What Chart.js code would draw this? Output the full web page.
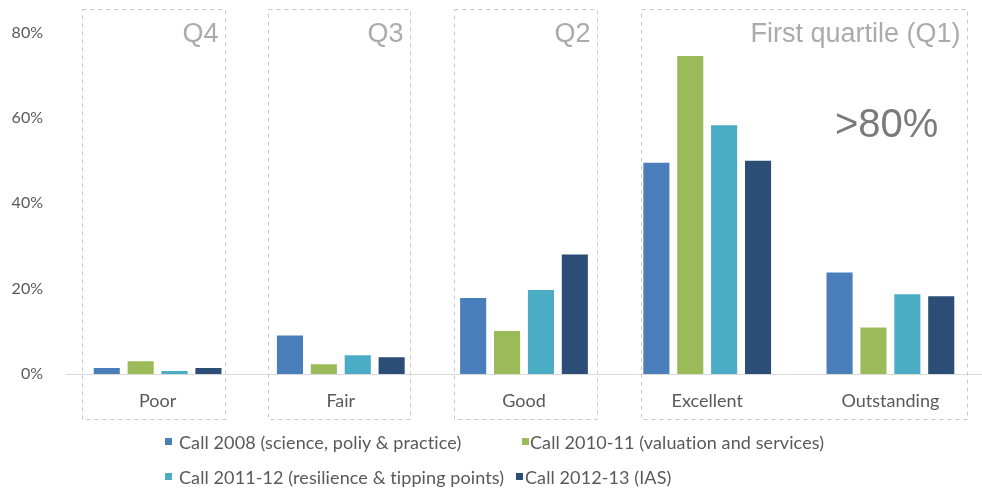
<!DOCTYPE html>
<html>
<head>
<meta charset="utf-8">
<script src="https://cdn.jsdelivr.net/npm/chart.js@4.4.0/dist/chart.umd.min.js"></script>
<style>
    html, body { margin: 0; padding: 0; background: #fff; }
    #contenedor { position: relative; width: 982px; height: 492px; }
    #leyenda { position: absolute; left: 0; top: 0; width: 982px; height: 492px; pointer-events: none; }
    .item { position: absolute; font-family: Lato, "Open Sans", sans-serif; font-size: 18px; letter-spacing: 0.1px; color: #595959; white-space: nowrap; line-height: 20px; }
    .cuadro { position: absolute; width: 7px; height: 7px; }
</style>
</head>
<body>
<div id="contenedor">
    <canvas id="myChart" width="982" height="492"></canvas>
    <div id="leyenda"></div>
</div>
<script>
// datos del grafico
const categorias = ['Poor', 'Fair', 'Good', 'Excellent', 'Outstanding'];
const convocatorias = [
    'Call 2008 (science, poliy & practice)',
    'Call 2010-11 (valuation and services)',
    'Call 2011-12 (resilience & tipping points)',
    'Call 2012-13 (IAS)'
];
const call2008 = [1.4, 9.0, 17.8, 49.5, 23.8];
const call2010 = [3.0, 2.3, 10.1, 74.5, 10.9];
const call2011 = [0.7, 4.4, 19.7, 58.3, 18.7];
const call2012 = [1.4, 3.9, 28.0, 50.0, 18.2];
const ticksY = [0, 20, 40, 60, 80];

const colores = ['#4a7ebb', '#9bbb59', '#4bacc6', '#2c4d75'];

// cuartiles (texto de cada recuadro)
const cuartiles = ['Q4', 'Q3', 'Q2', 'First quartile (Q1)'];

//función principal al iniciar
document.addEventListener('DOMContentLoaded', function () {
    graficaBarras();
    leyenda();
});

// recuadros punteados y textos de los cuartiles
const pluginCuartiles = {
    id: 'cuartiles',
    beforeDatasetsDraw(chart) {
        const ctx = chart.ctx;
        const x = chart.scales.x;
        const ancho = x.getPixelForValue(1) - x.getPixelForValue(0);
        // limites en unidades de categoria
        const rangos = [[-0.41, 0.37], [0.6, 1.38], [1.62, 2.4], [2.64, 4.42]];
        const arriba = 9, abajo = 419;

        ctx.save();
        ctx.lineWidth = 1;
        rangos.forEach((r, i) => {
            const x0 = Math.round(x.getPixelForValue(0) + r[0] * ancho) + 0.5;
            const x1 = Math.round(x.getPixelForValue(0) + r[1] * ancho) + 0.5;
            ctx.strokeStyle = '#c9c9c9';
            ctx.setLineDash([4, 4]);
            ctx.strokeRect(x0, arriba + 0.5, x1 - x0, abajo - arriba);

            ctx.setLineDash([]);
            ctx.fillStyle = '#ababab';
            ctx.font = '27px "Liberation Sans", Arial, sans-serif';
            ctx.textAlign = 'right';
            ctx.textBaseline = 'alphabetic';
            ctx.fillText(cuartiles[i], x1 - 7, 42);
        });
        ctx.restore();

        // texto >80%
        ctx.save();
        ctx.fillStyle = '#7a7a7a';
        ctx.font = '40px "Liberation Sans", Arial, sans-serif';
        ctx.textAlign = 'left';
        ctx.fillText('>80%', 835, 137);
        ctx.restore();
    }
};

function graficaBarras() {
    const series = [call2008, call2010, call2011, call2012];

    const data = {
        labels: categorias,
        datasets: series.map((s, i) => ({
            label: convocatorias[i],
            data: s,
            backgroundColor: colores[i],
            borderWidth: 0,
            categoryPercentage: 0.74,
            barPercentage: 0.77
        }))
    };

    const config = {
        type: 'bar',
        data: data,
        options: {
            responsive: false,
            animation: false,
            layout: {
                padding: { top: 28, right: 0, bottom: 78, left: 0 }
            },
            plugins: {
                legend: { display: false },
                tooltip: { enabled: false }
            },
            scales: {
                x: {
                    grid: { display: false, drawTicks: false },
                    border: { display: true, color: '#d9d9d9', width: 1 },
                    ticks: {
                        color: '#595959',
                        padding: 16,
                        font: { family: 'Lato, "Open Sans", sans-serif', size: 18 }
                    },
                    afterFit: function (scale) { scale.height = 40; }
                },
                y: {
                    min: 0,
                    max: 80,
                    grid: { display: false, drawTicks: false },
                    border: { display: false },
                    afterBuildTicks: function (scale) {
                        scale.ticks = ticksY.map(v => ({ value: v }));
                    },
                    ticks: {
                        color: '#595959',
                        padding: 23,
                        font: { family: 'Lato, "Open Sans", sans-serif', size: 16 },
                        callback: function (v) { return v + '%'; }
                    },
                    afterFit: function (scale) { scale.width = 66; }
                }
            }
        },
        plugins: [pluginCuartiles]
    };

    const ctx = document.getElementById('myChart').getContext('2d');
    new Chart(ctx, config);
}

// leyenda en html, dos filas
function leyenda() {
    const pos = [
        { cx: 165, tx: 179, y: 442 },
        { cx: 522, tx: 530, y: 442 },
        { cx: 165, tx: 179, y: 477 },
        { cx: 516, tx: 525, y: 477 }
    ];
    const cont = document.getElementById('leyenda');
    convocatorias.forEach((txt, i) => {
        const c = document.createElement('div');
        c.className = 'cuadro';
        c.style.left = pos[i].cx + 'px';
        c.style.top = (pos[i].y - 4) + 'px';
        c.style.background = colores[i];
        cont.appendChild(c);

        const t = document.createElement('div');
        t.className = 'item';
        t.style.left = pos[i].tx + 'px';
        t.style.top = (pos[i].y - 10) + 'px';
        t.textContent = txt;
        cont.appendChild(t);
    });
}
</script>
</body>
</html>
